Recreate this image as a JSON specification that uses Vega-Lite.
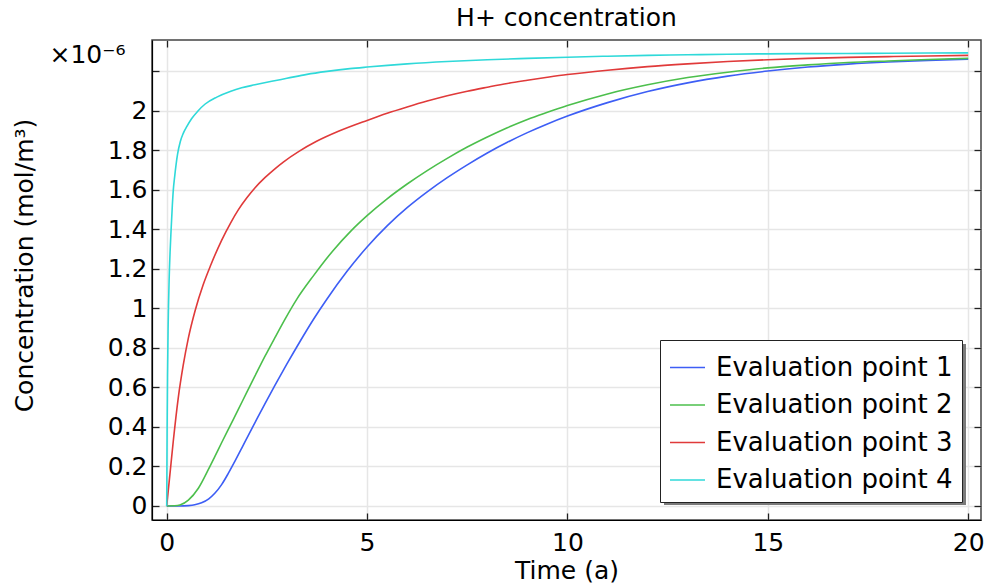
{
  "$schema": "https://vega.github.io/schema/vega-lite/v6.json",
  "width": 829,
  "height": 480,
  "autosize": "none",
  "padding": {"left": 152, "top": 40, "right": 9, "bottom": 68},
  "background": "white",
  "config": {
    "font": "DejaVu Sans",
    "view": {"stroke": "#444444", "strokeWidth": 1.5},
    "legend": {"gradientHorizontalMaxLength": 1000, "gradientHorizontalMinLength": 10}
  },
  "title": {"text": "H+ concentration", "fontSize": 25, "fontWeight": "normal", "color": "black", "anchor": "middle", "frame": "group", "baseline": "alphabetic", "offset": -12},
  "data": {"values": [
    {"s":"Evaluation point 1","t":0,"c":0},{"s":"Evaluation point 1","t":0.3,"c":0},{"s":"Evaluation point 1","t":0.54,"c":0.002},{"s":"Evaluation point 1","t":0.7,"c":0.006},{"s":"Evaluation point 1","t":0.87,"c":0.016},{"s":"Evaluation point 1","t":1.05,"c":0.036},{"s":"Evaluation point 1","t":1.2,"c":0.064},{"s":"Evaluation point 1","t":1.37,"c":0.108},{"s":"Evaluation point 1","t":1.54,"c":0.166},{"s":"Evaluation point 1","t":1.7,"c":0.226},{"s":"Evaluation point 1","t":1.87,"c":0.292},{"s":"Evaluation point 1","t":2.05,"c":0.363},{"s":"Evaluation point 1","t":2.2,"c":0.421},{"s":"Evaluation point 1","t":2.45,"c":0.517},{"s":"Evaluation point 1","t":2.7,"c":0.61},{"s":"Evaluation point 1","t":3.0,"c":0.719},{"s":"Evaluation point 1","t":3.33,"c":0.834},{"s":"Evaluation point 1","t":3.66,"c":0.944},{"s":"Evaluation point 1","t":4.0,"c":1.048},{"s":"Evaluation point 1","t":4.5,"c":1.188},{"s":"Evaluation point 1","t":5.0,"c":1.311},{"s":"Evaluation point 1","t":5.5,"c":1.418},{"s":"Evaluation point 1","t":6.0,"c":1.51},{"s":"Evaluation point 1","t":6.5,"c":1.59},{"s":"Evaluation point 1","t":7.0,"c":1.662},{"s":"Evaluation point 1","t":7.5,"c":1.727},{"s":"Evaluation point 1","t":8.0,"c":1.787},{"s":"Evaluation point 1","t":8.5,"c":1.841},{"s":"Evaluation point 1","t":9.0,"c":1.89},{"s":"Evaluation point 1","t":9.5,"c":1.934},{"s":"Evaluation point 1","t":10.0,"c":1.974},{"s":"Evaluation point 1","t":11.0,"c":2.042},{"s":"Evaluation point 1","t":12.0,"c":2.098},{"s":"Evaluation point 1","t":13.0,"c":2.142},{"s":"Evaluation point 1","t":14.0,"c":2.176},{"s":"Evaluation point 1","t":15.0,"c":2.202},{"s":"Evaluation point 1","t":16.0,"c":2.222},{"s":"Evaluation point 1","t":17.0,"c":2.237},{"s":"Evaluation point 1","t":18.0,"c":2.248},{"s":"Evaluation point 1","t":19.0,"c":2.256},{"s":"Evaluation point 1","t":20.0,"c":2.262},
    {"s":"Evaluation point 2","t":0,"c":0},{"s":"Evaluation point 2","t":0.2,"c":0.001},{"s":"Evaluation point 2","t":0.33,"c":0.005},{"s":"Evaluation point 2","t":0.54,"c":0.03},{"s":"Evaluation point 2","t":0.79,"c":0.09},{"s":"Evaluation point 2","t":1.04,"c":0.185},{"s":"Evaluation point 2","t":1.2,"c":0.25},{"s":"Evaluation point 2","t":1.37,"c":0.32},{"s":"Evaluation point 2","t":1.6,"c":0.413},{"s":"Evaluation point 2","t":1.79,"c":0.49},{"s":"Evaluation point 2","t":2.0,"c":0.576},{"s":"Evaluation point 2","t":2.2,"c":0.657},{"s":"Evaluation point 2","t":2.45,"c":0.757},{"s":"Evaluation point 2","t":2.7,"c":0.852},{"s":"Evaluation point 2","t":2.95,"c":0.945},{"s":"Evaluation point 2","t":3.24,"c":1.045},{"s":"Evaluation point 2","t":3.66,"c":1.165},{"s":"Evaluation point 2","t":4.16,"c":1.295},{"s":"Evaluation point 2","t":4.6,"c":1.393},{"s":"Evaluation point 2","t":5.0,"c":1.47},{"s":"Evaluation point 2","t":5.5,"c":1.555},{"s":"Evaluation point 2","t":6.0,"c":1.63},{"s":"Evaluation point 2","t":6.5,"c":1.698},{"s":"Evaluation point 2","t":7.0,"c":1.76},{"s":"Evaluation point 2","t":7.5,"c":1.817},{"s":"Evaluation point 2","t":8.0,"c":1.868},{"s":"Evaluation point 2","t":8.5,"c":1.915},{"s":"Evaluation point 2","t":9.0,"c":1.957},{"s":"Evaluation point 2","t":9.5,"c":1.993},{"s":"Evaluation point 2","t":10.0,"c":2.027},{"s":"Evaluation point 2","t":11.0,"c":2.086},{"s":"Evaluation point 2","t":12.0,"c":2.132},{"s":"Evaluation point 2","t":13.0,"c":2.169},{"s":"Evaluation point 2","t":14.0,"c":2.196},{"s":"Evaluation point 2","t":15.0,"c":2.218},{"s":"Evaluation point 2","t":16.0,"c":2.233},{"s":"Evaluation point 2","t":17.0,"c":2.245},{"s":"Evaluation point 2","t":18.0,"c":2.253},{"s":"Evaluation point 2","t":19.0,"c":2.26},{"s":"Evaluation point 2","t":20.0,"c":2.266},
    {"s":"Evaluation point 3","t":0,"c":0},{"s":"Evaluation point 3","t":0.08,"c":0.16},{"s":"Evaluation point 3","t":0.165,"c":0.33},{"s":"Evaluation point 3","t":0.29,"c":0.55},{"s":"Evaluation point 3","t":0.41,"c":0.71},{"s":"Evaluation point 3","t":0.54,"c":0.85},{"s":"Evaluation point 3","t":0.71,"c":0.99},{"s":"Evaluation point 3","t":0.91,"c":1.12},{"s":"Evaluation point 3","t":1.1,"c":1.22},{"s":"Evaluation point 3","t":1.37,"c":1.345},{"s":"Evaluation point 3","t":1.6,"c":1.435},{"s":"Evaluation point 3","t":1.79,"c":1.5},{"s":"Evaluation point 3","t":2.0,"c":1.56},{"s":"Evaluation point 3","t":2.2,"c":1.61},{"s":"Evaluation point 3","t":2.45,"c":1.662},{"s":"Evaluation point 3","t":2.7,"c":1.707},{"s":"Evaluation point 3","t":2.91,"c":1.741},{"s":"Evaluation point 3","t":3.3,"c":1.795},{"s":"Evaluation point 3","t":3.74,"c":1.846},{"s":"Evaluation point 3","t":4.3,"c":1.898},{"s":"Evaluation point 3","t":5.0,"c":1.952},{"s":"Evaluation point 3","t":5.5,"c":1.988},{"s":"Evaluation point 3","t":6.0,"c":2.02},{"s":"Evaluation point 3","t":6.5,"c":2.05},{"s":"Evaluation point 3","t":7.0,"c":2.077},{"s":"Evaluation point 3","t":7.5,"c":2.1},{"s":"Evaluation point 3","t":8.0,"c":2.12},{"s":"Evaluation point 3","t":8.5,"c":2.139},{"s":"Evaluation point 3","t":9.0,"c":2.155},{"s":"Evaluation point 3","t":9.5,"c":2.17},{"s":"Evaluation point 3","t":10.0,"c":2.184},{"s":"Evaluation point 3","t":11.0,"c":2.206},{"s":"Evaluation point 3","t":12.0,"c":2.224},{"s":"Evaluation point 3","t":13.0,"c":2.238},{"s":"Evaluation point 3","t":14.0,"c":2.25},{"s":"Evaluation point 3","t":15.0,"c":2.259},{"s":"Evaluation point 3","t":16.0,"c":2.266},{"s":"Evaluation point 3","t":17.0,"c":2.271},{"s":"Evaluation point 3","t":18.0,"c":2.275},{"s":"Evaluation point 3","t":19.0,"c":2.278},{"s":"Evaluation point 3","t":20.0,"c":2.281},
    {"s":"Evaluation point 4","t":0,"c":0},{"s":"Evaluation point 4","t":0.005,"c":0.2},{"s":"Evaluation point 4","t":0.01,"c":0.38},{"s":"Evaluation point 4","t":0.02,"c":0.65},{"s":"Evaluation point 4","t":0.035,"c":0.9},{"s":"Evaluation point 4","t":0.06,"c":1.14},{"s":"Evaluation point 4","t":0.085,"c":1.29},{"s":"Evaluation point 4","t":0.11,"c":1.4},{"s":"Evaluation point 4","t":0.14,"c":1.52},{"s":"Evaluation point 4","t":0.165,"c":1.6},{"s":"Evaluation point 4","t":0.2,"c":1.67},{"s":"Evaluation point 4","t":0.27,"c":1.78},{"s":"Evaluation point 4","t":0.34,"c":1.845},{"s":"Evaluation point 4","t":0.41,"c":1.885},{"s":"Evaluation point 4","t":0.5,"c":1.92},{"s":"Evaluation point 4","t":0.62,"c":1.96},{"s":"Evaluation point 4","t":0.78,"c":2.0},{"s":"Evaluation point 4","t":0.96,"c":2.035},{"s":"Evaluation point 4","t":1.25,"c":2.07},{"s":"Evaluation point 4","t":1.6,"c":2.1},{"s":"Evaluation point 4","t":1.87,"c":2.117},{"s":"Evaluation point 4","t":2.2,"c":2.132},{"s":"Evaluation point 4","t":2.62,"c":2.15},{"s":"Evaluation point 4","t":3.0,"c":2.165},{"s":"Evaluation point 4","t":3.5,"c":2.185},{"s":"Evaluation point 4","t":4.0,"c":2.2},{"s":"Evaluation point 4","t":4.57,"c":2.214},{"s":"Evaluation point 4","t":5.0,"c":2.222},{"s":"Evaluation point 4","t":6.0,"c":2.238},{"s":"Evaluation point 4","t":7.0,"c":2.25},{"s":"Evaluation point 4","t":8.0,"c":2.259},{"s":"Evaluation point 4","t":9.0,"c":2.266},{"s":"Evaluation point 4","t":10.0,"c":2.272},{"s":"Evaluation point 4","t":11.0,"c":2.277},{"s":"Evaluation point 4","t":12.0,"c":2.281},{"s":"Evaluation point 4","t":13.0,"c":2.284},{"s":"Evaluation point 4","t":14.0,"c":2.287},{"s":"Evaluation point 4","t":15.0,"c":2.289},{"s":"Evaluation point 4","t":16.0,"c":2.29},{"s":"Evaluation point 4","t":17.0,"c":2.291},{"s":"Evaluation point 4","t":18.0,"c":2.292},{"s":"Evaluation point 4","t":19.0,"c":2.293},{"s":"Evaluation point 4","t":20.0,"c":2.294}
  ]},
  "layer": [
    {
      "mark": {"type": "line", "strokeOpacity": 0},
      "encoding": {
        "x": {"field": "t", "type": "quantitative", "scale": {"domain": [-0.367, 20.32], "nice": false, "zero": false},
          "axis": {"orient": "top", "values": [0, 5, 10, 15, 20], "labels": false, "title": null, "grid": false, "domain": false, "tickSize": -7, "tickColor": "#222222", "tickWidth": 1.3}},
        "y": {"field": "c", "type": "quantitative", "scale": {"domain": [-0.071, 2.359], "nice": false, "zero": false},
          "axis": {"orient": "right", "values": [0, 0.2, 0.4, 0.6, 0.8, 1, 1.2, 1.4, 1.6, 1.8, 2, 2.2], "labels": false, "title": null, "grid": false, "domain": false, "tickSize": -7, "tickColor": "#222222", "tickWidth": 1.3}},
        "color": {"field": "c", "type": "quantitative",
          "scale": {"range": ["#7a7a7a", "#7a7a7a"]},
          "legend": {"type": "gradient", "orient": "none", "legendX": 512, "legendY": 304, "title": null, "direction": "horizontal", "gradientLength": 302, "gradientThickness": 161, "gradientStrokeWidth": 0, "padding": 0, "labelExpr": "''", "labelOpacity": 0, "labelFontSize": 1, "labelOffset": 0, "tickCount": 2}}
      }
    },
    {
      "mark": {"type": "line", "strokeWidth": 1.6, "interpolate": "monotone"},
      "encoding": {
        "x": {"field": "t", "type": "quantitative", "scale": {"domain": [-0.367, 20.32], "nice": false, "zero": false},
          "axis": {"orient": "bottom", "values": [0, 5, 10, 15, 20], "format": "d", "title": "Time (a)", "labelFontSize": 25, "labelColor": "black", "labelPadding": 17, "labelFlush": false, "labelOverlap": false,
            "tickSize": -7, "tickColor": "#222222", "tickWidth": 1.3, "domainColor": "black", "domainWidth": 1.2,
            "grid": true, "gridColor": "#e6e6e6", "gridWidth": 1.5,
            "titleFontSize": 25, "titleFontWeight": "normal", "titleColor": "black", "titleBaseline": "alphabetic", "titleY": 58}},
        "y": {"field": "c", "type": "quantitative", "scale": {"domain": [-0.071, 2.359], "nice": false, "zero": false},
          "axis": {"orient": "left", "values": [0, 0.2, 0.4, 0.6, 0.8, 1, 1.2, 1.4, 1.6, 1.8, 2, 2.2], "format": "~g",
            "labelExpr": "datum.value > 2.1 ? '×10⁻⁶' : datum.label",
            "labelFontSize": 25, "labelColor": "black", "labelFlush": false, "labelOverlap": false,
            "labelPadding": {"condition": {"test": "datum.value > 2.1", "value": 34}, "value": 12},
            "labelOffset": {"condition": {"test": "datum.value > 2.1", "value": -17}, "value": 0},
            "tickSize": -7, "tickColor": "#222222", "tickWidth": 1.3, "domainColor": "black", "domainWidth": 1.2,
            "grid": true, "gridColor": "#e6e6e6", "gridWidth": 1.5,
            "title": "Concentration (mol/m³)", "titleFontSize": 25, "titleFontWeight": "normal", "titleColor": "black",
            "titleBaseline": "alphabetic", "titleAlign": "center", "titleAngle": -90, "titleX": -120, "titleY": 225}},
        "color": {"field": "s", "type": "nominal",
          "scale": {"domain": ["Evaluation point 1", "Evaluation point 2", "Evaluation point 3", "Evaluation point 4"], "range": ["#3d5ef5", "#4cbf4c", "#e03a3a", "#2fd9d9"]},
          "legend": {"orient": "none", "legendX": 508, "legendY": 300, "title": null, "fillColor": "white", "strokeColor": "#222222", "padding": 9, "labelFontSize": 26, "labelLimit": 0, "labelColor": "black", "symbolType": "stroke", "symbolSize": 1225, "symbolStrokeWidth": 1.6, "labelOffset": 10, "rowPadding": 5.5}}
      }
    }
  ],
  "resolve": {"axis": {"x": "independent", "y": "independent"}, "scale": {"color": "independent"}, "legend": {"color": "independent"}}
}
